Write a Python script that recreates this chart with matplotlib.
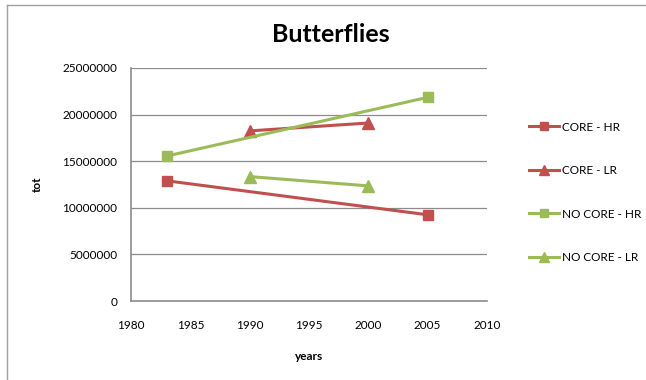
import matplotlib
matplotlib.use("Agg")
import matplotlib.pyplot as plt
from matplotlib.lines import Line2D
from matplotlib.ticker import FuncFormatter

plt.rcParams['font.family'] = ['Lato', 'DejaVu Sans']

# data
core_hr_years = [1983, 2005]
core_hr_tot = [12900000, 9250000]
core_lr_years = [1990, 2000]
core_lr_tot = [18250000, 19100000]
nocore_hr_years = [1983, 2005]
nocore_hr_tot = [15550000, 21850000]
nocore_lr_years = [1990, 2000]
nocore_lr_tot = [13350000, 12350000]

red = '#C0504D'
green = '#9BBB59'

fig = plt.figure(figsize=(6.46, 3.80), dpi=100)
# chart frame (only left and top edges are visible in the reference)
fig.lines.append(Line2D([7 / 646, 7 / 646], [0, 1 - 5 / 380], transform=fig.transFigure,
                        color='#A0A0A0', linewidth=1))
fig.lines.append(Line2D([7 / 646, 1], [1 - 5 / 380, 1 - 5 / 380], transform=fig.transFigure,
                        color='#A0A0A0', linewidth=1))

ax = fig.add_axes([131 / 646, 1 - 301 / 380, 356 / 646, 233 / 380])

ax.plot(core_hr_years, core_hr_tot, color=red, marker='s', markersize=7, linewidth=2.2, label='CORE - HR')
ax.plot(core_lr_years, core_lr_tot, color=red, marker='^', markersize=8, linewidth=2.2, label='CORE - LR')
ax.plot(nocore_hr_years, nocore_hr_tot, color=green, marker='s', markersize=7, linewidth=2.2, label='NO CORE - HR')
ax.plot(nocore_lr_years, nocore_lr_tot, color=green, marker='^', markersize=8, linewidth=2.2, label='NO CORE - LR')

ax.set_xlim(1980, 2010)
ax.set_ylim(0, 25000000)
ax.set_xticks(range(1980, 2011, 5))
ax.set_yticks(range(0, 25000001, 5000000))
ax.yaxis.set_major_formatter(FuncFormatter(lambda v, p: f'{int(v)}'))
ax.grid(axis='y', color='#8C8C8C', linewidth=0.9)
ax.set_axisbelow(True)
for s in ['top', 'right']:
    ax.spines[s].set_visible(False)
for s in ['left', 'bottom']:
    ax.spines[s].set_color('#8C8C8C')
    ax.spines[s].set_linewidth(1.2)
ax.tick_params(length=0, labelsize=8.5, pad=10)
ax.tick_params(axis='x', pad=14)

fig.text(331 / 646, 1 - 35 / 380, 'Butterflies', fontsize=18, fontweight='bold',
         ha='center', va='center')
ax.set_xlabel('years', fontsize=8.5, fontweight='bold', labelpad=14)
ax.set_ylabel('tot', fontsize=8.5, fontweight='bold', labelpad=14)

fig.legend(loc='upper left', bbox_to_anchor=(518 / 646, 1 - 111 / 380), frameon=False,
           fontsize=8.5, labelspacing=2.75, handlelength=2.6, handletextpad=0.2,
           markerscale=0.85)

fig.savefig('out.png', dpi=100)
